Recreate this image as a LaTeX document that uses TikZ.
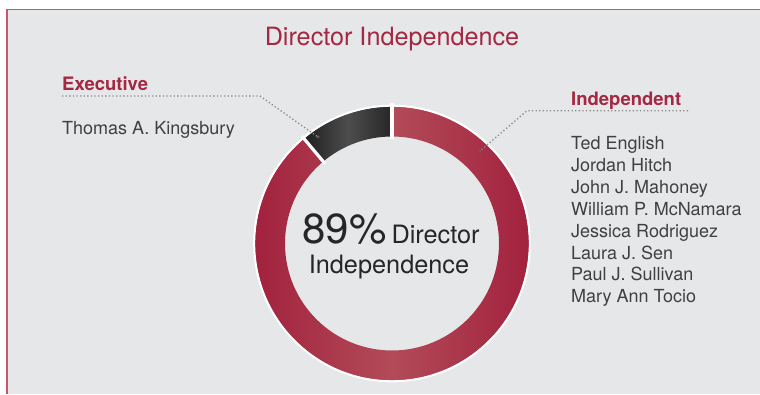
\documentclass[tikz,border=0pt]{standalone}
\usepackage{fontspec}
\setmainfont{TeX Gyre Heros}
\usetikzlibrary{calc}
\definecolor{brandred}{HTML}{A42842}
\definecolor{ringdark}{HTML}{A2223E}
\definecolor{ringlight}{HTML}{B24B58}
\definecolor{panelgray}{HTML}{E6E7E9}
\definecolor{framered}{HTML}{C4566E}
\definecolor{textgray}{HTML}{404040}
\definecolor{dotgray}{HTML}{8A8A8A}
\tikzset{
  lbl/.style={inner sep=0pt, anchor=base west, text=textgray, font=\fontsize{18}{22}\selectfont},
  head/.style={inner sep=0pt, anchor=base west, text=brandred, font=\fontsize{18.5}{22}\selectfont\bfseries},
  leader/.style={draw=dotgray, line width=1.3pt, dash pattern=on 1.3pt off 2.3pt},
  enddot/.style={circle, fill=dotgray!70!black, inner sep=0pt, minimum size=3pt},
  gapline/.style={white, line width=3.2pt}
}
\begin{document}
\begin{tikzpicture}[x=1pt,y=1pt]
\useasboundingbox (0,0) rectangle (760,394);
\fill[white] (0,0) rectangle (760,394);
\fill[panelgray] (7,0) rectangle (760,384.5);
\draw[framered, line width=1.5pt] (7,0) -- (7,384.5) -- (760,384.5);

% title
\node[inner sep=0pt, anchor=base, text=brandred, font=\fontsize{25.2}{28}\selectfont] (title) at (392,348) {Director Independence};

% ring
\coordinate (c) at (392,150.5);
\shade[left color=ringdark, right color=ringdark, middle color=ringlight]
  ($(c)+(90:137)$) arc[start angle=90, end angle=-230, radius=137]
  -- ($(c)+(130:107)$) arc[start angle=130, end angle=450, radius=107] -- cycle;
\shade[left color=black!88, right color=black!85, middle color=black!70]
  ($(c)+(90:137)$) arc[start angle=90, end angle=130, radius=137]
  -- ($(c)+(130:107)$) arc[start angle=130, end angle=90, radius=107] -- cycle;
\draw[white, line width=2pt] (c) circle (137.8);
\draw[gapline] ($(c)+(90:104)$) -- ($(c)+(90:140)$);
\draw[gapline] ($(c)+(130:104)$) -- ($(c)+(130:140)$);

% center text
\node[inner sep=0pt, anchor=base, text=black!85] (pct) at (391,151)
  {{\fontsize{42}{42}\selectfont 89\%}\hspace{5pt}{\fontsize{25.3}{28}\selectfont Director}};
\node[inner sep=0pt, anchor=base, text=black!85, font=\fontsize{25.3}{28}\selectfont] (indep) at (389,121) {Independence};

% executive
\node[head] (exec) at (62,303) {Executive};
\node[lbl] (tk) at (62,259) {Thomas A. Kingsbury};
\coordinate (e0) at (62,298);
\coordinate (e1) at (260,298);
\node[enddot] (edot) at (318,257) {};
\draw[leader] (e0) -- (e1) -- (edot.center);

% independent
\node[head] (ind) at (571,288.3) {Independent};
\coordinate (i0) at (688,283.3);
\coordinate (i1) at (527,283.3);
\node[enddot] (idot) at (480,243) {};
\draw[leader] (i0) -- (i1) -- (idot.center);

\node[lbl] (n1) at (571,244.5) {Ted English};
\node[lbl] (n2) at (571,222.6) {Jordan Hitch};
\node[lbl] (n3) at (571,200.7) {John J. Mahoney};
\node[lbl] (n4) at (571,178.8) {William P. McNamara};
\node[lbl] (n5) at (571,156.9) {Jessica Rodriguez};
\node[lbl] (n6) at (571,135.0) {Laura J. Sen};
\node[lbl] (n7) at (571,113.1) {Paul J. Sullivan};
\node[lbl] (n8) at (571,91.2) {Mary Ann Tocio};
\end{tikzpicture}
\end{document}
